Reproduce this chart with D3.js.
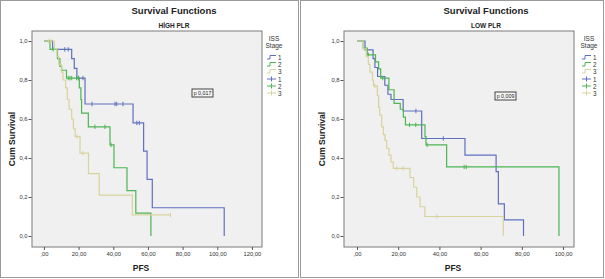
<!DOCTYPE html>
<html><head><meta charset="utf-8">
<script src="https://cdn.jsdelivr.net/npm/d3@7/dist/d3.min.js"></script>
<style>
body{margin:0;background:#fff;}
svg{display:block;font-family:"Liberation Sans",Arial,sans-serif;}
</style></head><body>
<svg id="c" width="605" height="279"></svg>
<script>
// ---------- data ----------
const yTickValues = [0, 0.2, 0.4, 0.6, 0.8, 1.0];
const yTickLabels = ["0,0", "0,2", "0,4", "0,6", "0,8", "1,0"];
const highXTicks = [0, 20, 40, 60, 80, 100, 120];
const highXLabels = [",00", "20,00", "40,00", "60,00", "80,00", "100,00", "120,00"];
const lowXTicks = [0, 20, 40, 60, 80, 100];
const lowXLabels = [",00", "20,00", "40,00", "60,00", "80,00", "100,00"];
const stageNames = ["1", "2", "3"];
const panelTitles = ["HİGH PLR", "LOW PLR"];
const pValues = ["p 0,017", "p 0,009"];

// HIGH PLR
const high1Times = [5, 16, 17.5, 19, 23.7, 51.4, 57.5, 59.5, 62.5, 104];
const high1Surv = [0.957, 0.91, 0.86, 0.81, 0.677, 0.58, 0.435, 0.29, 0.145, 0];
const high1Censored = [12, 14, 20, 22.5, 27.7, 41, 42, 45.6, 53.6, 55];

const high2Times = [3.5, 7.8, 9.2, 10.2, 13, 20.4, 21.3, 21.7, 25.6, 38.1, 40.4, 47.9, 53, 61.7];
const high2Surv = [0.957, 0.91, 0.87, 0.85, 0.81, 0.76, 0.70, 0.63, 0.56, 0.467, 0.35, 0.233, 0.117, 0];
const high2Censored = [5.3, 14, 15, 16, 18.8, 19.8, 29.4, 35.2, 38.7];

const high3Times = [6, 7.5, 8.5, 10, 11, 12.5, 13.5, 14.5, 16, 17, 18, 20.8, 25.7, 31.9, 51];
const high3Surv = [0.96, 0.92, 0.88, 0.84, 0.80, 0.76, 0.70, 0.65, 0.60, 0.55, 0.51, 0.425, 0.32, 0.21, 0.108];
const high3Censored = [2.5, 4, 19, 22.5, 73];

// LOW PLR
const low1Times = [3.9, 7.8, 8.7, 10, 13.5, 15, 16.5, 22.4, 31.4, 52.4, 67.5, 68.6, 71.5, 80.8];
const low1Surv = [0.955, 0.91, 0.864, 0.818, 0.773, 0.727, 0.70, 0.641, 0.50, 0.415, 0.33, 0.165, 0.083, 0];
const low1Censored = [28.6, 41.9];

const low2Times = [3, 5, 9, 10.5, 11.5, 15.5, 18, 21, 22.5, 23.5, 33, 33.5, 43.5, 98];
const low2Surv = [0.963, 0.929, 0.893, 0.857, 0.81, 0.75, 0.68, 0.65, 0.61, 0.57, 0.51, 0.467, 0.354, 0];
const low2Censored = [5.5, 12.5, 25.5, 28.5, 34, 52, 53];

const low3Times = [3, 4.5, 5.5, 6.3, 7.5, 8, 9.9, 10.5, 11, 12, 12.8, 13.6, 14.4, 15.5, 16.5, 17.6, 25.7, 27.5, 29, 30.6, 32.9, 71];
const low3Surv = [0.96, 0.92, 0.88, 0.84, 0.80, 0.77, 0.72, 0.66, 0.62, 0.56, 0.52, 0.49, 0.45, 0.415, 0.38, 0.347, 0.30, 0.25, 0.20, 0.15, 0.10, 0];
const low3Censored = [8.7, 19.3, 22.4, 38.8];

// ---------- styles / layout ----------
const colors = ["#5f70bf", "#4db553", "#d8d39d"];

const panels = [
  { ox: 0, x0: 32, x1: 262, domain: [-6.9, 125.8], ticks: highXTicks, labels: highXLabels,
    title: panelTitles[0], p: pValues[0], pbox: [192, 89],
    series: [[high1Times, high1Surv, high1Censored], [high2Times, high2Surv, high2Censored], [high3Times, high3Surv, high3Censored]],
    legX: 267, ylabX: 12, titleX: 174 },
  { ox: 300, x0: 344, x1: 574, domain: [-6.3, 105.3], ticks: lowXTicks, labels: lowXLabels,
    title: panelTitles[1], p: pValues[1], pbox: [495, 92],
    series: [[low1Times, low1Surv, low1Censored], [low2Times, low2Surv, low2Censored], [low3Times, low3Surv, low3Censored]],
    legX: 582, ylabX: 322, titleX: 486 }
];

const svg = d3.select("#c");
const yTop = 31, yBot = 247;
const y = d3.scaleLinear().domain([0, 1]).range([236, 41]);

function survAt(times, surv, t) {
  let s = 1;
  for (let i = 0; i < times.length; i++) if (times[i] <= t) s = surv[i];
  return s;
}

panels.forEach(P => {
  const g = svg.append("g");
  // panel border
  g.append("rect").attr("x", P.ox + 0.5).attr("y", 0.5)
    .attr("width", P.ox === 0 ? 298 : 303).attr("height", 277)
    .attr("fill", "#fff").attr("stroke", "#9a9a9a").attr("stroke-width", 1);

  // titles
  g.append("text").attr("x", P.titleX).attr("y", 14).attr("text-anchor", "middle")
    .attr("font-size", 9.5).attr("font-weight", "bold").attr("fill", "#222").text("Survival Functions");
  g.append("text").attr("x", P.titleX).attr("y", 27.5).attr("text-anchor", "middle")
    .attr("font-size", 6.5).attr("font-weight", "bold").attr("fill", "#222").text(P.title);

  const x = d3.scaleLinear().domain(P.domain).range([P.x0, P.x1]);

  // plot background
  g.append("rect").attr("x", P.x0).attr("y", yTop).attr("width", P.x1 - P.x0).attr("height", yBot - yTop)
    .attr("fill", "#f0f0f0").attr("stroke", "#7a7a7a").attr("stroke-width", 1);

  // axes
  const ya = d3.axisLeft(y).tickValues(yTickValues).tickSize(3).tickPadding(1)
    .tickFormat((d, i) => yTickLabels[i]);
  const yg = g.append("g").attr("transform", `translate(${P.x0 - 0.5},0)`).call(ya);
  yg.select(".domain").remove();
  yg.selectAll("line").attr("stroke", "#555");
  yg.selectAll("text").attr("font-size", 5.8).attr("fill", "#333").attr("font-family", "Liberation Sans, Arial");

  const xa = d3.axisBottom(x).tickValues(P.ticks).tickSize(3).tickPadding(2)
    .tickFormat((d, i) => P.labels[i]);
  const xg = g.append("g").attr("transform", `translate(0,${yBot})`).call(xa);
  xg.select(".domain").remove();
  xg.selectAll("line").attr("stroke", "#555");
  xg.selectAll("text").attr("font-size", 5.8).attr("fill", "#333").attr("font-family", "Liberation Sans, Arial");

  // axis labels
  g.append("text").attr("x", (P.x0 + P.x1) / 2 - 6).attr("y", 271).attr("text-anchor", "middle")
    .attr("font-size", 8.5).attr("font-weight", "bold").attr("fill", "#222").text("PFS");
  g.append("text").attr("transform", `translate(${P.ylabX + 3},139) rotate(-90)`).attr("text-anchor", "middle")
    .attr("font-size", 8.5).attr("font-weight", "bold").attr("fill", "#222").text("Cum Survival");

  // curves
  const line = d3.line().x(d => x(d[0])).y(d => y(d[1]));
  P.series.forEach((s, k) => {
    const [times, surv, cens] = s;
    const pts = [[0, 1]];
    let prev = 1;
    times.forEach((t, i) => { pts.push([t, prev]); pts.push([t, surv[i]]); prev = surv[i]; });
    const lastC = d3.max(cens);
    if (prev > 0 && lastC > times[times.length - 1]) pts.push([lastC, prev]);
    g.append("path").datum(pts).attr("d", line).attr("fill", "none")
      .attr("stroke", colors[k]).attr("stroke-width", 1.2);
    cens.forEach(c => {
      const cx = x(c), cy = y(survAt(times, surv, c));
      g.append("line").attr("x1", cx).attr("x2", cx).attr("y1", cy - 2.2).attr("y2", cy + 2.2)
        .attr("stroke", colors[k]).attr("stroke-width", 1);
    });
  });

  // p box
  g.append("rect").attr("x", P.pbox[0]).attr("y", P.pbox[1]).attr("width", 21).attr("height", 8)
    .attr("fill", "#f5f5f5").attr("stroke", "#333").attr("stroke-width", 0.9);
  g.append("text").attr("x", P.pbox[0] + 10.5).attr("y", P.pbox[1] + 6).attr("text-anchor", "middle")
    .attr("font-size", 5.3).attr("fill", "#222").text(P.p);

  // legend
  const lx = P.legX;
  g.append("text").attr("x", lx + 7).attr("y", 41).attr("text-anchor", "middle")
    .attr("font-size", 6.5).attr("fill", "#333").text("ISS");
  g.append("text").attr("x", lx + 7).attr("y", 47.5).attr("text-anchor", "middle")
    .attr("font-size", 6.5).attr("fill", "#333").text("Stage");
  const rowY = [57, 64, 71, 79, 86, 93];
  stageNames.forEach((nm, k) => {
    const ry = rowY[k];
    g.append("path").attr("d", `M${lx},${ry + 2}H${lx + 3}V${ry - 1.5}H${lx + 9}`)
      .attr("fill", "none").attr("stroke", colors[k]).attr("stroke-width", 1);
    g.append("text").attr("x", lx + 11).attr("y", ry + 2.5).attr("font-size", 6.3).attr("fill", "#333").text(nm);
  });
  stageNames.forEach((nm, k) => {
    const ry = rowY[k + 3];
    g.append("path").attr("d", `M${lx},${ry}H${lx + 9}M${lx + 4.5},${ry - 2.5}V${ry + 2.5}`)
      .attr("fill", "none").attr("stroke", colors[k]).attr("stroke-width", 1);
    g.append("text").attr("x", lx + 11).attr("y", ry + 2.5).attr("font-size", 6.3).attr("fill", "#333").text(nm);
  });
});
</script>
</body></html>
